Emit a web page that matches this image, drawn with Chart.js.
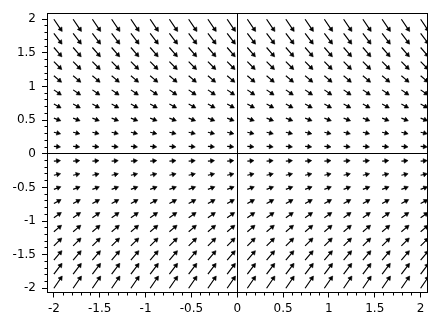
<!DOCTYPE html>
<html>
<head>
<meta charset="utf-8">
<script src="https://cdn.jsdelivr.net/npm/chart.js@4.4.1/dist/chart.umd.min.js"></script>
<style>
  html, body { margin: 0; padding: 0; background: #fff; }
</style>
</head>
<body>
<canvas id="field" width="440" height="327"></canvas>
<script>
// grid points where the arrows start (20 x 20)
var gridX = [-2.00, -1.79, -1.58, -1.37, -1.16, -0.95, -0.74, -0.53, -0.32, -0.11,
              0.11,  0.32,  0.53,  0.74,  0.95,  1.16,  1.37,  1.58,  1.79,  2.00];
var gridY = [ 2.00,  1.79,  1.58,  1.37,  1.16,  0.95,  0.74,  0.53,  0.32,  0.11,
             -0.11, -0.32, -0.53, -0.74, -0.95, -1.16, -1.37, -1.58, -1.79, -2.00];
// arrow components per row (every column in a row looks the same)
var rowU = [1, 1, 1, 1, 1, 1, 1, 1, 1, 1, 1, 1, 1, 1, 1, 1, 1, 1, 1, 1];
var rowV = [-2.00, -1.79, -1.58, -1.37, -1.16, -0.95, -0.74, -0.53, -0.32, -0.11,
             0.11,  0.32,  0.53,  0.74,  0.95,  1.16,  1.37,  1.58,  1.79,  2.00];
// labelled ticks
var tickValues = [-2, -1.5, -1, -0.5, 0, 0.5, 1, 1.5, 2];
var tickLabels = ['-2', '-1.5', '-1', '-0.5', '0', '0.5', '1', '1.5', '2'];

var pxPerUnit = 6.6;   // arrow length in px per unit of |(u, v)|
var headRadius = 2.6;

function labelFor(v) {
    for (var i = 0; i < tickValues.length; i++) {
        if (Math.abs(tickValues[i] - v) < 1e-6) return tickLabels[i];
    }
    return '';
}
function isMajor(c) {
    return c.tick && labelFor(c.tick.value) !== '';
}
function zeroLine(c) {
    return c.tick && Math.abs(c.tick.value) < 1e-9 ? '#000' : 'rgba(0,0,0,0)';
}
var tickFont = { family: 'DejaVu Sans', size: 12 };

var framePlugin = {
    id: 'frame',
    afterDatasetsDraw: function (chart) {
        var a = chart.chartArea, c = chart.ctx;
        var l = Math.floor(a.left), t = Math.floor(a.top);
        var r = Math.floor(a.right), b = Math.floor(a.bottom);
        c.save();
        c.strokeStyle = '#000';
        c.lineWidth = 1;
        c.strokeRect(l + 0.5, t + 0.5, r - l, b - t);
        c.restore();
    }
};

var ctx = document.getElementById('field').getContext('2d');
var chart = new Chart(ctx, {
    type: 'scatter',
    data: {
        datasets: [{
            label: 'shafts',
            data: [],
            showLine: true,
            spanGaps: false,
            borderColor: '#000',
            borderWidth: 1.2,
            pointRadius: 0
        }, {
            label: 'heads',
            data: [],
            pointStyle: 'triangle',
            pointRadius: headRadius,
            pointRotation: function (c) { return c.raw ? c.raw.rot : 0; },
            pointBackgroundColor: '#000',
            pointBorderColor: '#000',
            pointBorderWidth: 0.6
        }]
    },
    options: {
        responsive: false,
        animation: false,
        events: [],
        layout: { padding: { top: 13, right: 12.5, bottom: 0, left: 0 } },
        plugins: { legend: { display: false }, tooltip: { enabled: false } },
        scales: {
            x: {
                type: 'linear',
                min: -2.075,
                max: 2.075,
                afterFit: function (s) { s.height = 34.5; },
                border: { display: false },
                grid: {
                    color: zeroLine,
                    lineWidth: 1,
                    tickLength: 5,
                    tickColor: '#000',
                    tickWidth: 1,
                    tickBorderDash: function (c) { return isMajor(c) ? [] : [2.5, 10]; }
                },
                ticks: {
                    stepSize: 0.1,
                    maxTicksLimit: 60,
                    includeBounds: false,
                    autoSkip: false,
                    maxRotation: 0,
                    padding: 4,
                    color: '#000',
                    font: tickFont,
                    callback: function (v) { return labelFor(v); }
                }
            },
            y: {
                type: 'linear',
                min: -2.063,
                max: 2.09,
                afterFit: function (s) { s.width = 47; },
                border: { display: false },
                grid: {
                    color: zeroLine,
                    lineWidth: 1,
                    tickLength: 5,
                    tickColor: '#000',
                    tickWidth: 1,
                    tickBorderDash: function (c) { return isMajor(c) ? [] : [2.5, 2.5]; },
                    tickBorderDashOffset: function (c) { return isMajor(c) ? 0 : 2.5; }
                },
                ticks: {
                    stepSize: 0.1,
                    maxTicksLimit: 60,
                    includeBounds: false,
                    autoSkip: false,
                    padding: 6,
                    color: '#000',
                    font: tickFont,
                    callback: function (v) { return labelFor(v); }
                }
            }
        }
    },
    plugins: [framePlugin]
});

// arrows: direction follows the data, length in px follows |(u, v)|
function buildArrows(chart) {
    var sx = chart.scales.x, sy = chart.scales.y;
    var kx = sx.getPixelForValue(1) - sx.getPixelForValue(0);
    var ky = sy.getPixelForValue(0) - sy.getPixelForValue(1);
    var shafts = [], heads = [];
    gridY.forEach(function (y, r) {
        var u = rowU[r], v = rowV[r];
        var px = u * kx, py = -v * ky;
        var p = Math.sqrt(px * px + py * py);
        var len = pxPerUnit * Math.sqrt(u * u + v * v) - headRadius;
        var rot = Math.atan2(py, px) * 180 / Math.PI + 90;
        gridX.forEach(function (x) {
            var x0 = sx.getPixelForValue(x), y0 = sy.getPixelForValue(y);
            var hx = sx.getValueForPixel(x0 + px / p * len);
            var hy = sy.getValueForPixel(y0 + py / p * len);
            shafts.push({ x: x, y: y }, { x: hx, y: hy }, { x: null, y: null });
            heads.push({ x: hx, y: hy, rot: rot });
        });
    });
    chart.data.datasets[0].data = shafts;
    chart.data.datasets[1].data = heads;
    chart.update('none');
}
buildArrows(chart);
</script>
</body>
</html>
